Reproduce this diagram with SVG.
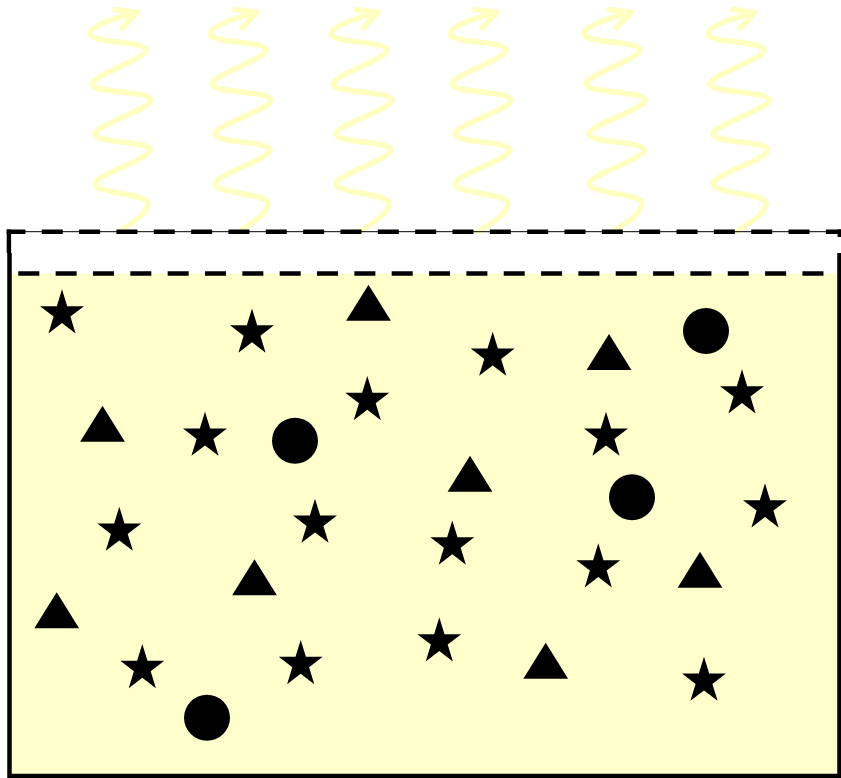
<svg xmlns="http://www.w3.org/2000/svg" xmlns:xlink="http://www.w3.org/1999/xlink" width="841" height="778" viewBox="0 0 841 778">
  <style>
    .wave { fill: none; stroke: #FFFFC0; stroke-width: 5.5; stroke-linecap: round; stroke-linejoin: round; }
    .shape { fill: #000; }
    .edge { fill: none; stroke: #000; stroke-width: 4.5; }
    .dash { stroke: #000; stroke-width: 4.6; stroke-dasharray: 21 16.34; }
  </style>
  <defs>
    <path id="star" d="M0,-24.4 L5.18,-7.54 L21.97,-7.54 L8.39,2.88 L13.58,19.74 L0,9.32 L-13.58,19.74 L-8.39,2.88 L-21.97,-7.54 L-5.18,-7.54 Z"/>
    <path id="tri" d="M0,0 L22.4,36 L-22.4,36 Z"/>
    <g id="wave">
      <path d="M118,232 C130,224 148,214 148,203 C148,194 95,193 95,184 C95,175 150,159 150,150 C150,141 95,143 95,134 C95,125 151,109 151,100 C151,91 92,93 92,84 C92,75 146,59 146,50 C146,41 90,43 90,34 C90,26 115,18 137,12.5"/>
      <path d="M115,9.5 L137,12.5 L122,28"/>
    </g>
  </defs>
  <rect x="0" y="0" width="841" height="778" fill="#FFFFFF"/>

  <g id="waves" class="wave">
    <use xlink:href="#wave"/>
    <use xlink:href="#wave" transform="translate(120,0)"/>
    <use xlink:href="#wave" transform="translate(241,0)"/>
    <use xlink:href="#wave" transform="translate(360,0)"/>
    <use xlink:href="#wave" transform="translate(494,0)"/>
    <use xlink:href="#wave" transform="translate(618,0)"/>
  </g>

  <g id="container">
    <rect x="11" y="273.5" width="827" height="501" fill="#FFFFCC"/>
    <path class="edge" d="M9.5,253 V776 H839.5 V253"/>
    <line x1="8.9" y1="229.4" x2="8.9" y2="253" stroke="#000" stroke-width="4.4"/>
    <line x1="839.3" y1="229.4" x2="839.3" y2="237" stroke="#000" stroke-width="3.5"/>
    <line x1="7" y1="231.7" x2="841" y2="231.7" stroke="#000" stroke-width="1"/>
    <line class="dash" x1="6.7" y1="231.7" x2="841" y2="231.7" stroke-dashoffset="2.3"/>
    <line class="dash" x1="18.3" y1="273.5" x2="832" y2="273.5"/>
  </g>

  <g id="stars" class="shape">
    <use xlink:href="#star" x="62" y="313.7"/>
    <use xlink:href="#star" x="252" y="332.9"/>
    <use xlink:href="#star" x="492.7" y="356.1"/>
    <use xlink:href="#star" x="742" y="393.7"/>
    <use xlink:href="#star" x="367.3" y="400.4"/>
    <use xlink:href="#star" x="205" y="436.1"/>
    <use xlink:href="#star" x="606" y="436.1"/>
    <use xlink:href="#star" x="119.3" y="531.1"/>
    <use xlink:href="#star" x="315" y="523.1"/>
    <use xlink:href="#star" x="452.3" y="544.9"/>
    <use xlink:href="#star" x="765" y="507.7"/>
    <use xlink:href="#star" x="598.3" y="567.7"/>
    <use xlink:href="#star" x="142.3" y="668.4"/>
    <use xlink:href="#star" x="300.7" y="664.4"/>
    <use xlink:href="#star" x="439.3" y="641.7"/>
    <use xlink:href="#star" x="704" y="681.1"/>
  </g>

  <g id="triangles" class="shape">
    <use xlink:href="#tri" x="368.5" y="284.7"/>
    <use xlink:href="#tri" x="609" y="334"/>
    <use xlink:href="#tri" x="102.5" y="405.7"/>
    <use xlink:href="#tri" x="470" y="455.7"/>
    <use xlink:href="#tri" x="254.5" y="559.3"/>
    <use xlink:href="#tri" x="700" y="551.7"/>
    <use xlink:href="#tri" x="56.7" y="592.3"/>
    <use xlink:href="#tri" x="545.7" y="642.7"/>
  </g>

  <g id="circles" class="shape">
    <circle cx="295" cy="440.7" r="23"/>
    <circle cx="706" cy="331" r="23"/>
    <circle cx="632" cy="497.3" r="23"/>
    <circle cx="207" cy="717.7" r="23"/>
  </g>
</svg>
